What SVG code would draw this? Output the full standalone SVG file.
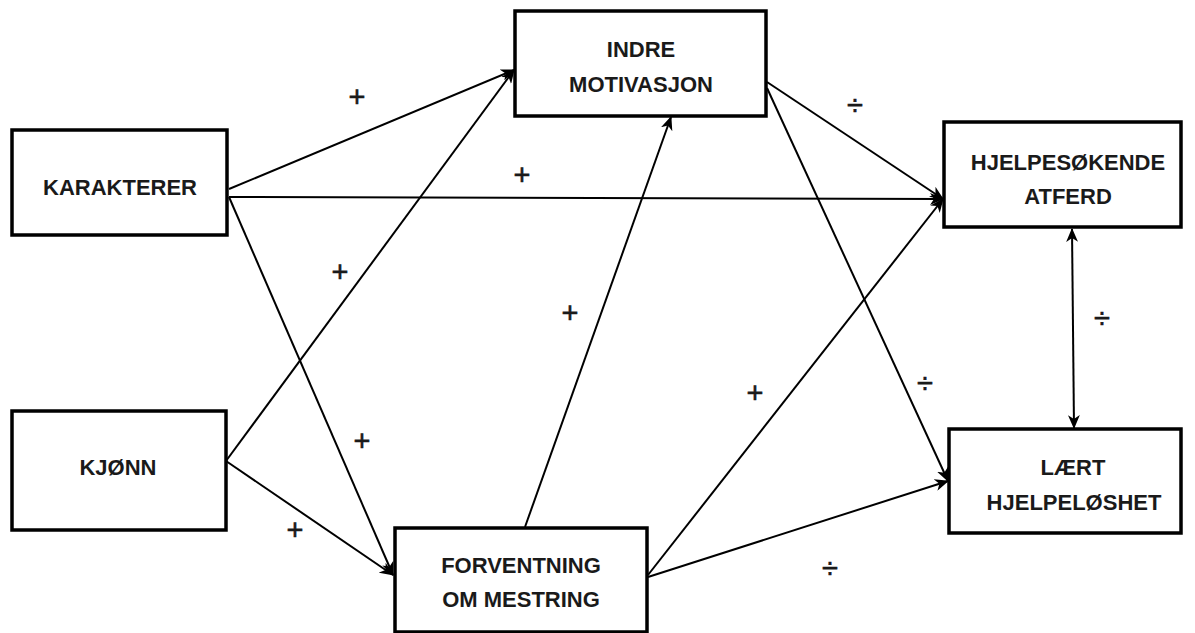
<svg xmlns="http://www.w3.org/2000/svg" width="1195" height="633" viewBox="0 0 1195 633">
<style>
.box{fill:#fff;stroke:#000;stroke-width:3.5}
.t{font-family:"Liberation Sans",Arial,sans-serif;font-weight:bold;font-size:22px;fill:#1a1a1a;text-anchor:middle}
.c{stroke:#000;stroke-width:2;fill:none}
.s{font-family:"Liberation Sans",Arial,sans-serif;font-size:29px;fill:#1a1a1a;text-anchor:middle;stroke:#1a1a1a;stroke-width:0.6}
</style>
<defs>
<marker id="ah" markerUnits="userSpaceOnUse" markerWidth="14" markerHeight="12" refX="13" refY="6" orient="auto-start-reverse">
<path d="M0,0 L14,6 L0,12 L4,6 Z" fill="#000"/>
</marker>
</defs>
<rect width="1195" height="633" fill="#fff"/>
<g id="connectors">
<line class="c" x1="229" y1="189" x2="514" y2="70" marker-end="url(#ah)"/>
<line class="c" x1="229" y1="197" x2="943" y2="199" marker-end="url(#ah)"/>
<line class="c" x1="229" y1="197" x2="393" y2="575" marker-end="url(#ah)"/>
<line class="c" x1="226" y1="461" x2="514" y2="70" marker-end="url(#ah)"/>
<line class="c" x1="226" y1="461" x2="393" y2="575" marker-end="url(#ah)"/>
<line class="c" x1="525" y1="527" x2="671" y2="117" marker-end="url(#ah)"/>
<line class="c" x1="648" y1="575" x2="943" y2="199" marker-end="url(#ah)"/>
<line class="c" x1="648" y1="577" x2="948" y2="481" marker-end="url(#ah)"/>
<line class="c" x1="767" y1="82" x2="943" y2="199" marker-end="url(#ah)"/>
<line class="c" x1="767" y1="88" x2="948" y2="481" marker-end="url(#ah)"/>
<line class="c" x1="1072" y1="229" x2="1074" y2="428" marker-start="url(#ah)" marker-end="url(#ah)"/>
</g>
<g id="indre"><rect class="box" x="515" y="11" width="251" height="105"/><text class="t" x="641" y="57">INDRE</text><text class="t" x="641" y="92">MOTIVASJON</text></g>
<g id="hjelpesokende"><rect class="box" x="944" y="122" width="237" height="105"/><text class="t" x="1068" y="170">HJELPESØKENDE</text><text class="t" x="1068" y="204">ATFERD</text></g>
<g id="laert"><rect class="box" x="949" y="429" width="232" height="104"/><text class="t" x="1073" y="475">LÆRT</text><text class="t" x="1074" y="510">HJELPELØSHET</text></g>
<g id="forventning"><rect class="box" x="395" y="528" width="252" height="104"/><text class="t" x="521" y="573">FORVENTNING</text><text class="t" x="521" y="607">OM MESTRING</text></g>
<g id="karakterer"><rect class="box" x="12" y="130" width="215" height="105"/><text class="t" x="120" y="195">KARAKTERER</text></g>
<g id="kjonn"><rect class="box" x="12" y="411" width="214" height="119"/><text class="t" x="118" y="475">KJØNN</text></g>
<g id="labels">
<text class="s" x="357" y="107">+</text>
<text class="s" x="522" y="185">+</text>
<text class="s" x="340" y="282">+</text>
<text class="s" x="570" y="323">+</text>
<text class="s" x="362" y="451">+</text>
<text class="s" x="295" y="540">+</text>
<text class="s" x="755" y="403">+</text>
<text class="s" x="855" y="115">÷</text>
<text class="s" x="1102" y="328">÷</text>
<text class="s" x="925" y="393">÷</text>
<text class="s" x="830" y="578">÷</text>
</g>
</svg>
